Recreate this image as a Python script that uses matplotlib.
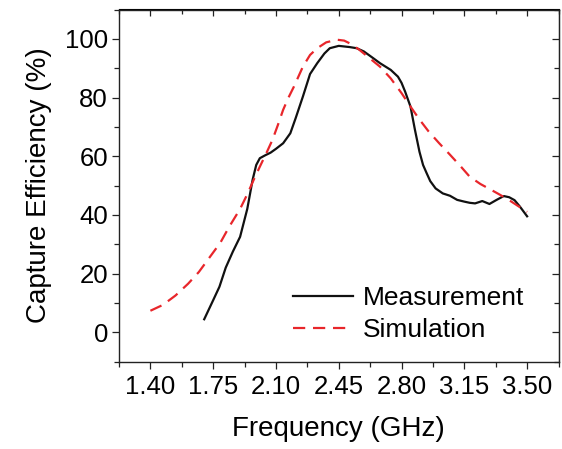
import matplotlib.pyplot as plt
from matplotlib.ticker import MultipleLocator

# ----------------
# DATA
# ----------------

meas_freq = [1.70, 1.75, 1.785, 1.82, 1.86, 1.90, 1.94, 1.97, 1.99, 2.01, 2.04, 2.07,
             2.10, 2.14, 2.18, 2.21, 2.25, 2.29, 2.33, 2.37, 2.40, 2.45, 2.51, 2.55,
             2.59, 2.64, 2.68, 2.74, 2.78, 2.80, 2.82, 2.85, 2.875, 2.90, 2.92, 2.94,
             2.96, 2.99, 3.03, 3.07, 3.11, 3.15, 3.18, 3.21, 3.25, 3.29, 3.33, 3.37,
             3.40, 3.43, 3.46, 3.50]
meas_eff = [4.4, 10.9, 15.5, 22.0, 27.5, 32.5, 42.0, 52.0, 57.0, 59.3, 60.3, 61.2,
            62.5, 64.4, 67.8, 73.0, 80.3, 88.0, 91.7, 95.0, 96.8, 97.6, 97.2, 96.8,
            95.7, 93.5, 91.7, 89.4, 87.1, 85.0, 82.0, 76.9, 68.9, 61.5, 57.0, 54.2,
            51.5, 49.0, 47.3, 46.5, 45.1, 44.5, 44.1, 43.9, 44.7, 43.7, 45.1, 46.4,
            46.0, 45.0, 42.8, 39.5]

sim_freq = [1.40, 1.47, 1.54, 1.61, 1.67, 1.73, 1.79, 1.84, 1.90, 1.94, 1.98, 2.01,
            2.05, 2.08, 2.11, 2.14, 2.17, 2.20, 2.25, 2.29, 2.33, 2.38, 2.44, 2.48,
            2.51, 2.56, 2.61, 2.68, 2.74, 2.80, 2.85, 2.90, 2.95, 3.01, 3.07, 3.13,
            3.18, 3.24, 3.30, 3.35, 3.40, 3.45, 3.50]
sim_eff = [7.3, 9.3, 12.5, 16.5, 20.5, 25.5, 30.5, 36.0, 42.0, 47.0, 52.5, 56.4,
           61.5, 65.5, 70.5, 75.8, 80.0, 83.7, 90.5, 94.5, 96.8, 98.8, 99.7, 99.4,
           98.5, 96.5, 94.0, 90.5, 86.5, 81.5, 76.9, 72.5, 68.5, 64.4, 60.5, 56.5,
           53.0, 50.5, 48.5, 46.8, 45.0, 43.0, 41.0]

x_ticks = [1.40, 1.75, 2.10, 2.45, 2.80, 3.15, 3.50]
y_ticks = [0, 20, 40, 60, 80, 100]

# ----------------
# PLOT
# ----------------

plt.rcParams['font.family'] = ['Liberation Sans', 'DejaVu Sans']

fig = plt.figure(figsize=(5.62, 4.49), dpi=100)
ax = fig.add_axes([119 / 562, 1 - 361.5 / 449, (558.5 - 119) / 562, (361.5 - 9.5) / 449])

ax.plot(meas_freq, meas_eff, color='#111111', lw=1.6, label='Measurement',
        solid_joinstyle='round')
ax.plot(sim_freq, sim_eff, color='#e8262b', lw=1.6, dashes=(5.5, 3.5), label='Simulation')

ax.set_xlim(1.225, 3.675)
ax.set_ylim(-10, 110)
ax.set_xticks(x_ticks)
ax.set_xticklabels([f'{t:.2f}' for t in x_ticks])
ax.set_yticks(y_ticks)
ax.xaxis.set_minor_locator(MultipleLocator(0.175))
ax.yaxis.set_minor_locator(MultipleLocator(10))

for s in ax.spines.values():
    s.set_linewidth(1.0)
    s.set_color('#222222')

ax.tick_params(which='both', direction='out', width=0.9, labelsize=18.5, color='#222222')
ax.tick_params(which='major', length=5)
ax.tick_params(which='minor', length=3.5)
ax.tick_params(axis='x', pad=5)
ax.tick_params(axis='y', pad=3)

# mirrored ticks pointing inward on top and right
top = ax.secondary_xaxis('top')
top.set_xticks(x_ticks)
top.xaxis.set_minor_locator(MultipleLocator(0.175))
top.tick_params(which='both', direction='in', labeltop=False, width=0.9, color='#222222')
top.tick_params(which='major', length=5)
top.tick_params(which='minor', length=3.5)
right = ax.secondary_yaxis('right')
right.set_yticks(y_ticks)
right.yaxis.set_minor_locator(MultipleLocator(10))
right.tick_params(which='both', direction='in', labelright=False, width=0.9, color='#222222')
right.tick_params(which='major', length=5)
right.tick_params(which='minor', length=3.5)

ax.set_xlabel('Frequency (GHz)', fontsize=20, labelpad=12)
ax.set_ylabel('Capture Efficiency (%)', fontsize=20, labelpad=9)

ax.legend(loc='center left', bbox_to_anchor=(0.395, 0.134), frameon=False,
          fontsize=19, handlelength=2.3, handletextpad=0.35, labelspacing=0.3,
          borderpad=0, borderaxespad=0)

fig.savefig('out.png', dpi=100)
plt.close(fig)
